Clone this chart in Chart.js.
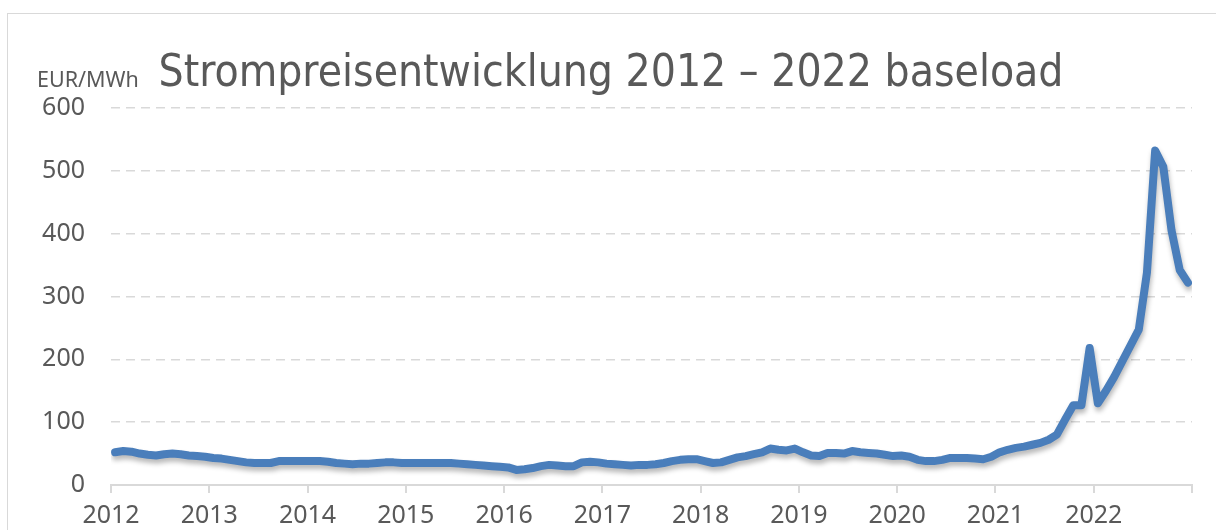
<!DOCTYPE html>
<html>
<head>
<meta charset="utf-8">
<script src="https://cdn.jsdelivr.net/npm/chart.js@4"></script>
<style>
  html, body { margin: 0; padding: 0; background: #fff; overflow: hidden; }
  #frame { position: absolute; left: 7px; top: 13px; width: 1240px; height: 560px; border: 1px solid #d9d9d9; }
  #wrap { position: absolute; left: 0; top: 0; width: 1216px; height: 530px; }
</style>
</head>
<body>
<div id="frame"></div>
<div id="wrap"><canvas id="priceChart"></canvas></div>
<script>
// tick labels for the x axis (one per year)
const yearLabels = ['2012', '2013', '2014', '2015', '2016', '2017', '2018', '2019', '2020', '2021', '2022'];
const titleText = 'Strompreisentwicklung 2012 \u2013 2022 baseload';
const unitText = 'EUR/MWh';

// monthly baseload price, EUR/MWh, Jan 2012 .. Dec 2022
const prices = [
  52, 54, 53, 50, 48, 47, 49, 50, 49, 47, 46, 45,       // 2012
  43, 42, 40, 38, 36, 35, 35, 35, 38, 38, 38, 38,       // 2013
  38, 38, 37, 35, 34, 33, 34, 34, 35, 36, 36, 35,       // 2014
  35, 35, 35, 35, 35, 35, 34, 33, 32, 31, 30, 29,       // 2015
  28, 24, 25, 27, 30, 32, 31, 30, 30, 36, 37, 36,       // 2016
  34, 33, 32, 31, 32, 32, 33, 35, 38, 40, 41, 41,       // 2017
  38, 35, 36, 40, 44, 46, 49, 52, 58, 56, 55, 58,       // 2018
  52, 47, 46, 51, 51, 50, 54, 52, 51, 50, 48, 46,       // 2019
  47, 45, 40, 38, 38, 40, 43, 43, 43, 42, 41, 45,       // 2020
  52, 56, 59, 61, 64, 67, 72, 80, 104, 127, 127, 218,   // 2021
  130, 150, 172, 197, 222, 247, 338, 532, 506, 405, 342, 322  // 2022
];

const firstYear = Number(yearLabels[0]);

// points sit in the middle of their month on the year axis
const points = prices.map((p, i) => ({ x: firstYear + (i + 0.5) / 12, y: p }));

// soft shadow under the line, like the office chart
const lineShadow = {
  id: 'lineShadow',
  beforeDatasetsDraw(chart) {
    const c = chart.ctx;
    c.save();
    c.shadowColor = 'rgba(0,0,0,0.28)';
    c.shadowBlur = 5;
    c.shadowOffsetX = 1;
    c.shadowOffsetY = 4;
  },
  afterDatasetsDraw(chart) {
    chart.ctx.restore();
  }
};

// unit label top left of the value axis
const unitLabel = {
  id: 'unitLabel',
  afterDraw(chart) {
    const c = chart.ctx;
    c.save();
    c.font = '21.5px "Noto Sans"';
    c.fillStyle = '#595959';
    c.textAlign = 'left';
    c.textBaseline = 'alphabetic';
    c.fillText(unitText, 37, chart.chartArea.top - 21);
    c.restore();
  }
};

const ctx = document.getElementById('priceChart').getContext('2d');
new Chart(ctx, {
  type: 'line',
  data: {
    datasets: [{
      label: 'baseload',
      data: points,
      borderColor: '#4a7ebb',
      borderWidth: 8,
      borderCapStyle: 'round',
      borderJoinStyle: 'round',
      pointRadius: 0,
      tension: 0,
      fill: false
    }]
  },
  options: {
    responsive: true,
    maintainAspectRatio: false,
    animation: false,
    layout: { padding: { left: 30, right: 24, top: 0, bottom: 0 } },
    plugins: {
      legend: { display: false },
      tooltip: { enabled: false },
      title: {
        display: true,
        text: titleText,
        color: '#595959',
        font: { family: '"Liberation Sans Narrow", "DejaVu Sans Condensed", "Noto Sans"', size: 44, weight: 'normal' },
        padding: { top: 48, bottom: 7 }
      }
    },
    scales: {
      x: {
        type: 'linear',
        min: firstYear,
        max: firstYear + yearLabels.length,
        afterFit: (s) => { s.height = 45; },
        ticks: {
          stepSize: 1,
          autoSkip: false,
          maxRotation: 0,
          padding: 8,
          color: '#595959',
          font: { family: '"Noto Sans"', size: 25 },
          callback: (v) => yearLabels[Math.round(v) - firstYear] || ''
        },
        grid: { display: true, drawOnChartArea: false, drawTicks: true, tickLength: 8, color: '#d9d9d9', lineWidth: 2 },
        border: { display: true, color: '#d9d9d9', width: 2 }
      },
      y: {
        min: 0,
        max: 600,
        afterFit: (s) => { s.width = 81; },
        ticks: {
          stepSize: 100,
          padding: 26,
          color: '#595959',
          font: { family: '"Noto Sans"', size: 25 }
        },
        grid: { color: '#d9d9d9', lineWidth: 1.5, drawTicks: false },
        border: { display: false, dash: [9, 6] }
      }
    }
  },
  plugins: [lineShadow, unitLabel]
});
</script>
</body>
</html>
